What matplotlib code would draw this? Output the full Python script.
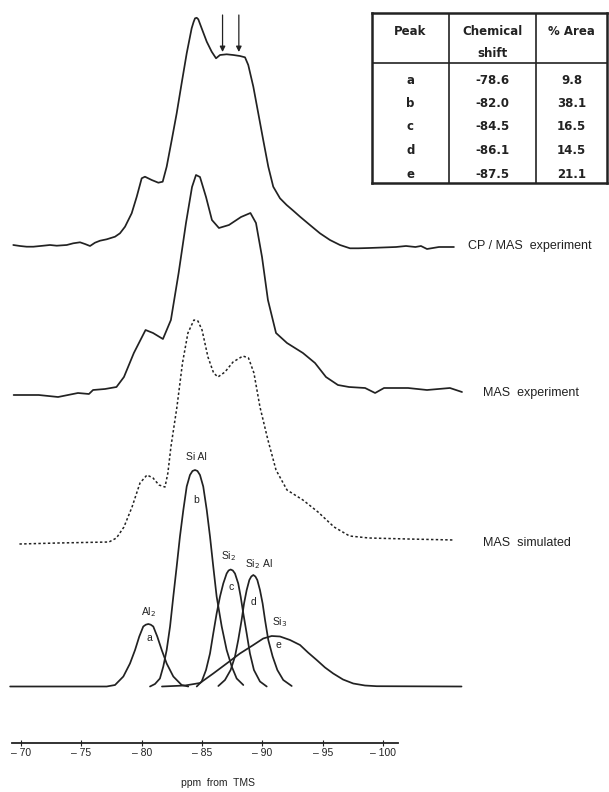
#### 29Si MAS NMR spectra, CP/MAS vs MAS and deconvolution ####

import matplotlib
matplotlib.use("Agg")
import matplotlib.pyplot as plt

# Data #
# x : ppm from TMS, y : intensity (arbitrary units) above the trace's own baseline

cp_ppm = [-69.36, -69.92, -70.47, -71.02, -71.85, -72.40, -72.96, -73.79, -74.33, -74.89,
          -75.30, -75.72, -76.13, -76.55, -77.10, -77.79, -78.20, -78.62, -79.17, -79.59,
          -80.00, -80.27, -80.83, -81.38, -81.74, -82.07, -82.49, -82.90, -83.31, -83.73,
          -84.14, -84.30, -84.42, -84.56, -84.69, -84.97, -85.39, -85.80, -86.16, -86.49, -87.04, -87.59,
          -88.14, -88.56, -88.83, -89.25, -89.66, -90.07, -90.49, -90.90, -91.46, -92.01,
          -92.56, -93.12, -93.94, -94.77, -95.60, -96.43, -97.26, -97.95, -98.83, -101.07,
          -101.90, -102.68, -103.14, -103.64, -104.63, -105.87]
cp_int = [0, -1, -1.7, -1.7, -0.7, 0, -0.7, 0, 1.7, 2.7,
          1, -1, 2.3, 4.3, 5.7, 8.3, 11.7, 18.3, 31.7, 48.3,
          66.7, 68.3, 65, 62.3, 63.3, 78.3, 105, 131.7, 161.7, 191.7,
          216.7, 223, 226.7, 227.2, 225.7, 216.7, 203.3, 193.3, 186.7, 190, 190.7, 190,
          189, 187.7, 180, 158.3, 131.7, 105, 78.3, 58.3, 46.7, 40,
          34.3, 28.3, 20, 11.7, 5, 0, -3.3, -3.3, -3, -2,
          -1, -2, -1, -4, -2, -2]

mas_ppm = [-69.39, -71.47, -73.07, -74.72, -75.63, -75.97, -76.96, -77.91, -78.53, -79.35,
           -80.32, -80.94, -81.76, -82.42, -83.06, -83.67, -84.17, -84.50, -84.83, -85.33,
           -85.82, -86.40, -87.23, -88.23, -89.01, -89.47, -89.97, -90.46, -91.13, -92.04,
           -93.36, -94.36, -95.27, -96.26, -97.18, -98.51, -99.34, -100.08, -102.07, -103.64,
           -105.54, -106.54]
mas_int = [-1, -1, -3, 1, 0, 4, 5, 7, 17, 41,
           64, 61, 55, 74, 121, 171, 207, 219, 217, 197,
           174, 166, 169, 177, 181, 171, 137, 94, 61, 51,
           41, 31, 17, 9, 7, 6, 1, 6, 6, 4,
           6, 2]

sim_ppm = [-69.87, -73.07, -77.29, -77.91, -78.53, -79.20, -79.86, -80.44, -80.94, -81.43,
           -81.93, -82.17, -82.42, -82.92, -83.38, -83.83, -84.33, -84.66, -85.00, -85.49,
           -85.96, -86.32, -86.90, -87.57, -88.39, -88.85, -89.30, -89.80, -90.46, -91.13,
           -92.04, -93.36, -94.61, -95.94, -97.22, -98.83, -102.07, -105.87]
sim_int = [-3, -2, -1, 3, 14, 34, 58, 66, 63, 56,
           54, 68, 94, 134, 178, 208, 221, 220, 211, 184,
           168, 164, 169, 179, 185, 183, 168, 134, 101, 71,
           51, 41, 29, 14, 5, 3, 2, 1]

# deconvoluted components (a starts with the left baseline, e runs on into the right one) #
a_ppm = [-69.1, -77.10, -77.79, -78.48, -79.03, -79.45, -79.80, -80.13, -80.34, -80.55,
         -80.75, -80.96, -81.29, -81.66, -82.07, -82.62, -83.31, -83.86]
a_int = [0, 0, 1.5, 10, 23, 36.5, 50, 60, 61.8, 62.5, 61.8, 60, 50, 36.5, 23, 10, 1.5, 0]

b_ppm = [-80.69, -81.10, -81.51, -81.79, -82.07, -82.35, -82.62, -82.90, -83.17, -83.45,
         -83.73, -84.00, -84.21, -84.42, -84.62, -84.83, -85.10, -85.39, -85.66, -85.93,
         -86.21, -86.63, -87.04, -87.46, -87.87, -88.42]
b_int = [0, 2.5, 8, 20, 36.5, 60, 90, 120, 150, 176.5,
         200, 211.5, 215.5, 216.5, 215.5, 211.5, 200, 176.5, 150, 120,
         90, 60, 36.5, 20, 8, 1.5]

c_ppm = [-84.56, -84.97, -85.33, -85.66, -85.93, -86.21, -86.49, -86.76, -87.04, -87.20,
         -87.37, -87.55, -87.73, -88.00, -88.20, -88.42, -88.70, -88.97, -89.30, -89.80, -90.36]
c_int = [0, 5, 16.5, 33, 53, 73, 90, 103, 113, 116,
         117, 116, 113, 103, 90, 73, 53, 33, 16.5, 5, 0]

d_ppm = [-86.35, -86.90, -87.37, -87.73, -88.00, -88.28, -88.48, -88.70, -88.92, -89.08,
         -89.25, -89.42, -89.58, -89.80, -90.02, -90.22, -90.49, -90.85, -91.24, -91.73, -92.43]
d_int = [0.5, 6.5, 16.5, 30, 46.5, 66.5, 83, 96.5, 106.5, 110,
         111.5, 110, 106.5, 96.5, 83, 66.5, 46.5, 30, 16.5, 6.5, 0.5]

e_ppm = [-81.68, -83.59, -84.83, -85.93, -87.04, -88.14, -89.25, -90.07, -90.77, -91.46,
         -92.29, -93.12, -93.78, -94.50, -95.19, -95.87, -96.68, -97.53, -98.50, -99.47, -106.5]
e_int = [0, 1, 3.5, 13, 23, 33, 41.5, 48, 50.5, 50,
         46.5, 41.5, 34, 26.5, 19, 13, 7, 3, 1, 0.3, 0]

# table #
peaks = ["a", "b", "c", "d", "e"]
shifts = [-78.6, -82.0, -84.5, -86.1, -87.5]
areas = [9.8, 38.1, 16.5, 14.5, 21.1]

ticks = [-70, -75, -80, -85, -90, -95, -100]

# Layout / styles #
ink = "#222222"
lw = 1.25
off_cp, off_mas, off_sim, off_comp = 547, 398, 251, 105.5
line = dict(color=ink, lw=lw, solid_joinstyle="round", solid_capstyle="round")

fig = plt.figure(figsize=(6.09, 7.92), dpi=100)
ax = fig.add_axes([0, 0, 1, 1])
ax.set_xlim(-68.26, -118.72)
ax.set_ylim(0, 792)

ax.plot(cp_ppm, [v + off_cp for v in cp_int], **line)
ax.plot(mas_ppm, [v + off_mas for v in mas_int], **line)
ax.plot(sim_ppm, [v + off_sim for v in sim_int], color=ink, lw=1.1,
        linestyle=(0, (1.6, 1.5)))
for xs, ys in [(a_ppm, a_int), (b_ppm, b_int), (c_ppm, c_int), (d_ppm, d_int), (e_ppm, e_int)]:
    ax.plot(xs, [v + off_comp for v in ys], **line)

# arrows over the CP/MAS plateau #
for xa in [-86.7, -88.05]:
    ax.annotate("", xy=(xa, off_cp + 193), xytext=(xa, off_cp + 230),
                arrowprops=dict(arrowstyle="-|>", color=ink, lw=0.9, mutation_scale=8,
                                shrinkA=0, shrinkB=0))

# trace names #
lab = dict(fontsize=9, color=ink, family="Liberation Sans", va="center", ha="left")
ax.text(-107.0, off_cp - 1, "CP / MAS  experiment", **lab)
ax.text(-108.3, off_mas + 1, "MAS  experiment", **lab)
ax.text(-108.3, off_sim - 2, "MAS  simulated", **lab)

# component labels #
pk = dict(fontsize=7.5, color=ink, family="Liberation Sans", ha="center", va="center")
ax.text(-80.6, 180, "Al$_2$", **pk)
ax.text(-80.6, 154, "a", **pk)
ax.text(-84.55, 335, "Si Al", **pk)
ax.text(-84.55, 292, "b", **pk)
ax.text(-87.2, 236, "Si$_2$", **pk)
ax.text(-87.45, 205, "c", **pk)
ax.text(-89.75, 228, "Si$_2$ Al", **pk)
ax.text(-89.3, 190, "d", **pk)
ax.text(-91.45, 170, "Si$_3$", **pk)
ax.text(-91.3, 147, "e", **pk)

# the ppm axis #
for s in ["top", "left", "right"]:
    ax.spines[s].set_visible(False)
ax.spines["bottom"].set_position(("data", 792 - 742.7))
ax.spines["bottom"].set_bounds(-69.23, -101.26)
ax.spines["bottom"].set_color(ink)
ax.spines["bottom"].set_linewidth(1.3)
ax.set_yticks([])
ax.set_xticks(ticks)
ax.set_xticklabels(["\u2013 %d" % abs(t) for t in ticks], fontsize=7.5,
                   family="Liberation Sans", color=ink)
ax.tick_params(axis="x", direction="inout", length=4, width=0.8, color=ink, pad=2)
fig.text(218 / 609, 1 - 783 / 792, "ppm  from  TMS", fontsize=7.5, family="Liberation Sans",
         color=ink, ha="center", va="center")

# table of peaks #
tab = fig.add_axes([371.7 / 609, 1 - 182.7 / 792, 235.3 / 609, 169.4 / 792])
tab.set_xlim(0, 1)
tab.set_ylim(0, 1)
tab.set_xticks([])
tab.set_yticks([])
for s in tab.spines.values():
    s.set_linewidth(1.8)
    s.set_color(ink)
tab.axvline(0.328, color=ink, lw=1.2)
tab.axvline(0.698, color=ink, lw=1.2)
tab.axhline(0.705, color=ink, lw=1.2)
cols = [0.164, 0.513, 0.849]
tx = dict(fontsize=8.5, family="DejaVu Sans", fontweight="bold", color=ink,
          ha="center", va="center")
tab.text(cols[0], 0.891, "Peak", **tx)
tab.text(cols[1], 0.891, "Chemical", **tx)
tab.text(cols[1], 0.764, "shift", **tx)
tab.text(cols[2], 0.891, "% Area", **tx)
rows = [0.606, 0.468, 0.329, 0.191, 0.051]
for r, p, sh, ar in zip(rows, peaks, shifts, areas):
    tab.text(cols[0], r, p, **tx)
    tab.text(cols[1], r, "%.1f" % sh, **tx)
    tab.text(cols[2], r, "%.1f" % ar, **tx)

fig.savefig("out.png", dpi=100)
